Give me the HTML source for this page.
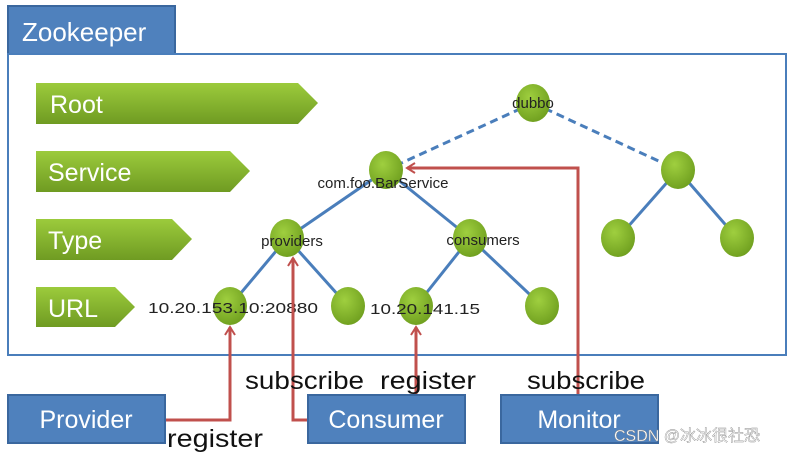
<!DOCTYPE html>
<html><head><style>
body{margin:0;width:802px;height:454px;background:#fff;overflow:hidden}
</style></head><body>
<svg width="802" height="454" xmlns="http://www.w3.org/2000/svg" font-family="Liberation Sans, sans-serif">
<defs>
<radialGradient id="g" cx="0.4" cy="0.35" r="0.7"><stop offset="0" stop-color="#9fcf3f"/><stop offset="1" stop-color="#6e9e1e"/></radialGradient>
<linearGradient id="ga" x1="0" y1="0" x2="0" y2="1"><stop offset="0" stop-color="#9ccb3c"/><stop offset="1" stop-color="#6f9b22"/></linearGradient>
<marker id="ar" markerWidth="12" markerHeight="12" refX="10" refY="6" orient="auto" markerUnits="userSpaceOnUse"><path d="M2,1 L10,6 L2,11" fill="none" stroke="#c0504d" stroke-width="2"/></marker>
</defs>
<rect x="8" y="6" width="167" height="48" fill="#4f81bd" stroke="#3a679e" stroke-width="2"/>
<text x="22" y="41" font-size="26" fill="#fff">Zookeeper</text>
<rect x="8" y="54" width="778" height="301" fill="#fff" stroke="#4a7ebb" stroke-width="2"/>
<g fill="url(#ga)">
<polygon points="36,83 298,83 318,103 298,124 36,124"/>
<polygon points="36,151 230,151 250,171 230,192 36,192"/>
<polygon points="36,219 172,219 192,239 172,260 36,260"/>
<polygon points="36,287 115,287 135,307 115,327 36,327"/>
</g>
<g fill="#fff" font-size="25">
<text x="50" y="113">Root</text><text x="48" y="181">Service</text>
<text x="48" y="249">Type</text><text x="48" y="317">URL</text>
</g>
<g stroke="#4a7ebb" stroke-width="3" fill="none">
<line x1="533" y1="103" x2="386" y2="170" stroke-dasharray="8,5"/>
<line x1="533" y1="103" x2="678" y2="170" stroke-dasharray="8,5"/>
<line x1="386" y1="170" x2="287" y2="238"/><line x1="386" y1="170" x2="470" y2="238"/>
<line x1="678" y1="170" x2="618" y2="238"/><line x1="678" y1="170" x2="737" y2="238"/>
<line x1="287" y1="238" x2="230" y2="306"/><line x1="287" y1="238" x2="348" y2="306"/>
<line x1="470" y1="238" x2="416" y2="306"/><line x1="470" y1="238" x2="542" y2="306"/>
</g>
<g fill="url(#g)">
<ellipse cx="533" cy="103" rx="17" ry="19"/><ellipse cx="386" cy="170" rx="17" ry="19"/>
<ellipse cx="678" cy="170" rx="17" ry="19"/><ellipse cx="287" cy="238" rx="17" ry="19"/>
<ellipse cx="470" cy="238" rx="17" ry="19"/><ellipse cx="618" cy="238" rx="17" ry="19"/>
<ellipse cx="737" cy="238" rx="17" ry="19"/><ellipse cx="230" cy="306" rx="17" ry="19"/>
<ellipse cx="348" cy="306" rx="17" ry="19"/><ellipse cx="416" cy="306" rx="17" ry="19"/>
<ellipse cx="542" cy="306" rx="17" ry="19"/>
</g>
<g font-size="15" fill="#222">
<text x="533" y="108" text-anchor="middle">dubbo</text>
<text x="383" y="188" text-anchor="middle">com.foo.BarService</text>
<text x="292" y="246" text-anchor="middle">providers</text>
<text x="483" y="245" text-anchor="middle">consumers</text>
<text x="148" y="313" textLength="170" lengthAdjust="spacingAndGlyphs">10.20.153.10:20880</text>
<text x="370" y="314" textLength="110" lengthAdjust="spacingAndGlyphs">10.20.141.15</text>
</g>
<g stroke="#c0504d" stroke-width="3" fill="none">
<polyline points="165,420 230,420 230,327" marker-end="url(#ar)"/>
<polyline points="307,420 293,420 293,258" marker-end="url(#ar)"/>
<polyline points="416,394 416,327" marker-end="url(#ar)"/>
<polyline points="578,394 578,168 407,168" marker-end="url(#ar)"/>
</g>
<g fill="#4f81bd" stroke="#3a679e" stroke-width="2">
<rect x="8" y="395" width="157" height="48"/><rect x="308" y="395" width="157" height="48"/><rect x="501" y="395" width="157" height="48"/>
</g>
<g fill="#fff" font-size="25" text-anchor="middle">
<text x="86" y="428">Provider</text><text x="386" y="428">Consumer</text><text x="579" y="428">Monitor</text>
</g>
<g font-size="25" fill="#111">
<text x="245" y="389" textLength="119" lengthAdjust="spacingAndGlyphs">subscribe</text><text x="380" y="389" textLength="96" lengthAdjust="spacingAndGlyphs">register</text>
<text x="527" y="389" textLength="118" lengthAdjust="spacingAndGlyphs">subscribe</text><text x="167" y="447" textLength="96" lengthAdjust="spacingAndGlyphs">register</text>
</g>
<text x="614" y="441" font-size="16" fill="#fff" stroke="#888" stroke-width="0.4" font-family="Liberation Sans, Noto Sans CJK SC, sans-serif">CSDN @冰冰很社恐</text>
</svg>
</body></html>
